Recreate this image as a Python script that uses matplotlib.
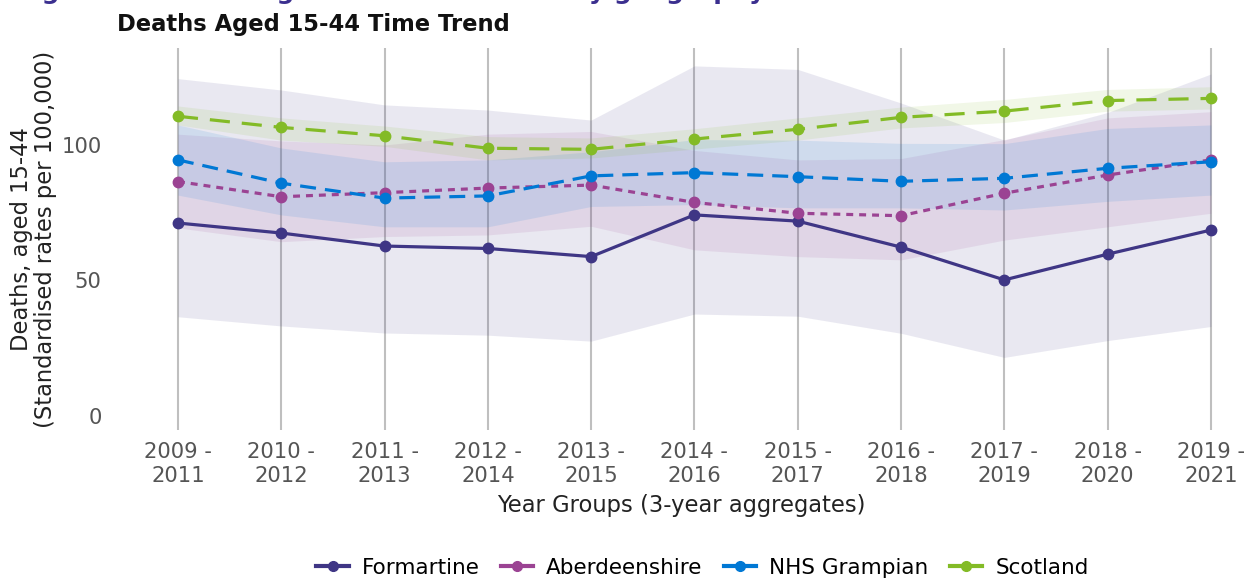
import matplotlib
matplotlib.use("Agg")
import matplotlib.pyplot as plt
from matplotlib.lines import Line2D
import numpy as np

categories = ["2009 -\n2011", "2010 -\n2012", "2011 -\n2013", "2012 -\n2014", "2013 -\n2015",
              "2014 -\n2016", "2015 -\n2017", "2016 -\n2018", "2017 -\n2019", "2018 -\n2020",
              "2019 -\n2021"]

formartine = [71.2, 67.5, 62.7, 61.8, 58.8, 74.2, 71.9, 62.3, 50.2, 59.7, 68.6]
formartine_upper = [124.5, 120.3, 114.8, 112.9, 109.2, 129.2, 127.9, 115.5, 101.8, 112.0, 126.2]
formartine_lower = [36.6, 33.2, 30.6, 29.8, 27.6, 37.6, 36.8, 30.5, 21.6, 27.8, 33.0]

aberdeenshire = [86.5, 80.9, 82.4, 84.1, 85.2, 78.8, 74.8, 73.9, 82.2, 88.9, 94.5]
aberdeenshire_upper = [104.0, 101.5, 100.0, 104.0, 105.0, 98.0, 94.5, 95.0, 102.0, 110.0, 112.3]
aberdeenshire_lower = [69.4, 64.3, 66.2, 66.8, 70.0, 61.3, 58.8, 57.6, 64.9, 69.8, 74.8]

grampian = [94.5, 85.9, 80.4, 81.2, 88.6, 89.8, 88.3, 86.6, 87.7, 91.4, 93.8]
grampian_upper = [107.4, 98.9, 93.8, 94.5, 97.5, 102.0, 101.8, 100.6, 100.5, 106.1, 107.4]
grampian_lower = [81.5, 74.2, 69.8, 69.8, 77.3, 78.0, 76.8, 76.8, 76.0, 79.2, 81.5]

scotland = [110.6, 106.5, 103.4, 98.8, 98.4, 102.2, 105.8, 110.2, 112.5, 116.4, 117.2]
scotland_upper = [114.4, 110.0, 107.0, 103.1, 102.6, 106.0, 110.0, 114.0, 116.8, 120.5, 121.5]
scotland_lower = [107.4, 101.8, 99.5, 94.5, 95.2, 98.5, 101.8, 106.3, 108.3, 112.5, 113.3]

yticks = [0, 50, 100]

plt.rcParams['font.family'] = ['DejaVu Sans']
plt.rcParams['lines.scale_dashes'] = False

fig = plt.figure(figsize=(12.5, 5.78), dpi=100)
ax = fig.add_axes([117/1250, 1 - 430/578, (1245 - 117)/1250, (430 - 48)/578])

x = np.arange(len(categories))

series = [
    ("Formartine", formartine, formartine_lower, formartine_upper, "#3F3685", "-"),
    ("Aberdeenshire", aberdeenshire, aberdeenshire_lower, aberdeenshire_upper, "#9B4393", (0, (5, 4.3))),
    ("NHS Grampian", grampian, grampian_lower, grampian_upper, "#0078D4", (0, (11.5, 6.5))),
    ("Scotland", scotland, scotland_lower, scotland_upper, "#83BB26", (0, (14.5, 8.6))),
]

for name, vals, lo, hi, col, ls in series:
    ax.fill_between(x, lo, hi, color=col, alpha=0.11, linewidth=0, zorder=1)

handles = []
for name, vals, lo, hi, col, ls in series:
    ax.plot(x, vals, color=col, linestyle=ls, linewidth=2.3, marker="o",
            markersize=7.5, label=name, zorder=3)
    handles.append(Line2D([0], [0], color=col, linewidth=3, marker="o", markersize=7, label=name))

ax.set_xlim(-0.59, 10.33)
ax.set_ylim(-5.2, 135.8)
ax.set_xticks(x)
ax.set_xticklabels(categories, fontsize=15.2, color="#555555", linespacing=1.2)
ax.set_yticks(yticks)
ax.set_yticklabels([str(v) for v in yticks], fontsize=15.2, color="#555555")
ax.tick_params(axis="both", length=0)
ax.tick_params(axis="y", pad=11)
ax.tick_params(axis="x", pad=9)
ax.grid(axis="x", color="#b8b8b8", linewidth=1.5, alpha=0.9, zorder=0)
ax.grid(axis="y", visible=False)
for s in ax.spines.values():
    s.set_visible(False)
ax.set_axisbelow(True)

ax.set_xlabel("Year Groups (3-year aggregates)", fontsize=16.3, color="#222222", labelpad=6)
ax.set_ylabel("Deaths, aged 15-44\n(Standardised rates per 100,000)", fontsize=16.3,
              color="#222222", labelpad=3, linespacing=1.1)

fig.text(117/1250, 1 - 24/578, "Deaths Aged 15-44 Time Trend", fontsize=16.3, fontweight="bold",
         ha="left", va="center", color="#111111")

fig.text(16/1250, 1 + 1/578, "Figure 3: Deaths aged 15-44 over time by geography",
         fontsize=18, fontweight="bold", ha="left", va="baseline", color="#3B2F8F")

fig.legend(handles=handles, loc="center", bbox_to_anchor=(0.562, 1 - 568/578), ncol=4,
           frameon=False, fontsize=15.5, handlelength=1.5, columnspacing=1.0,
           handletextpad=0.6, borderaxespad=0)

fig.savefig("out.png", dpi=100)
